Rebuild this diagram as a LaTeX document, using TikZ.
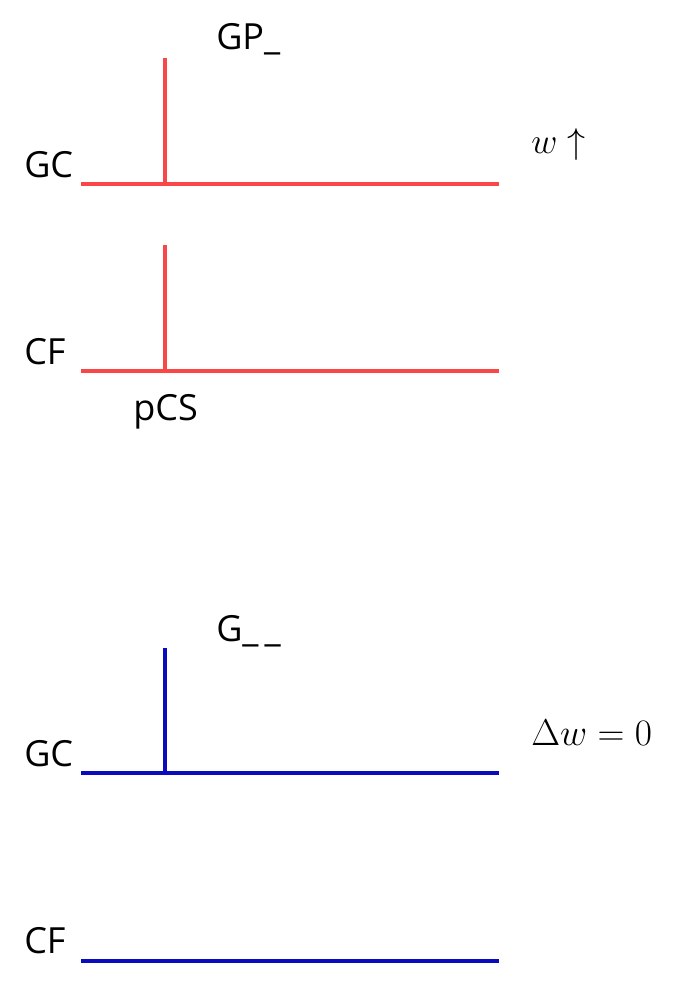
\RequirePackage{fix-cm}
\documentclass[tikz,border=0pt]{standalone}
\usepackage{fontspec}
\setmainfont{Open Sans}
\definecolor{lred}{RGB}{250,70,70}
\definecolor{lblue}{RGB}{10,10,190}
\begin{document}
\begin{tikzpicture}[x=0.75pt,y=-0.75pt,
  lbl/.style={inner sep=0pt,anchor=base west,font=\fontsize{27}{32}\selectfont},
  mlbl/.style={inner sep=0pt,anchor=base west,font=\fontsize{28}{34}\selectfont},
  redline/.style={draw=lred,line width=2.3pt},
  blueline/.style={draw=lblue,line width=2.3pt}]
\useasboundingbox (0,0) rectangle (687,995);
% red section
\coordinate (r1a) at (81,184); \coordinate (r1b) at (499,184);
\coordinate (r1v) at (165,184); \coordinate (r1t) at (165,58);
\coordinate (r2a) at (81,371); \coordinate (r2b) at (499,371);
\coordinate (r2v) at (165,371); \coordinate (r2t) at (165,245);
\draw[redline] (r1a) -- (r1b);
\draw[redline] (r1v) -- (r1t);
\draw[redline] (r2a) -- (r2b);
\draw[redline] (r2v) -- (r2t);
\node[lbl] (gc1) at (24,177) {GC};
\node[lbl] (gp) at (216,50) {GP\_};
\node[lbl] (cf1) at (24,364) {CF};
\node[lbl] (pcs) at (133,420) {pCS};
\node[lbl] (wup) at (531,153) {$w\uparrow$};
% blue section
\coordinate (b1a) at (81,773); \coordinate (b1b) at (499,773);
\coordinate (b1v) at (165,773); \coordinate (b1t) at (165,648);
\coordinate (b2a) at (81,961); \coordinate (b2b) at (499,961);
\draw[blueline] (b1a) -- (b1b);
\draw[blueline] (b1v) -- (b1t);
\draw[blueline] (b2a) -- (b2b);
\node[lbl] (gc2) at (24,766) {GC};
\node[lbl] (g) at (216,641) {G\_\,\_};
\node[lbl] (cf2) at (24,953) {CF};
\node[mlbl] (dw) at (531,745) {$\Delta w=0$};
\end{tikzpicture}
\end{document}
